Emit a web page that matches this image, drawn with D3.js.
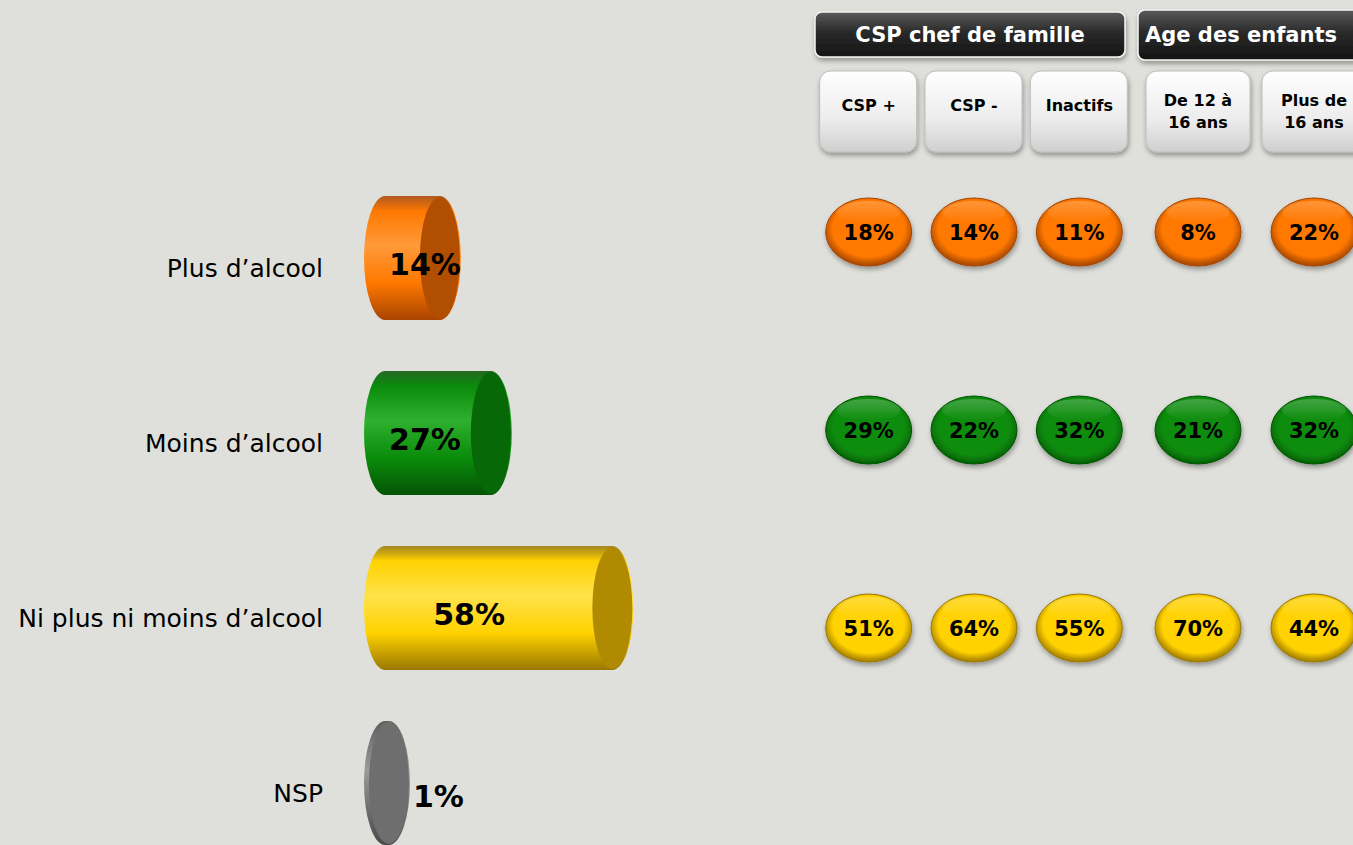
<!DOCTYPE html>
<html>
<head>
<meta charset="utf-8">
<script src="https://cdn.jsdelivr.net/npm/d3@7"></script>
<style>
  body { margin: 0; background: #dfe0db; }
  svg { display: block; }
</style>
</head>
<body>
<div id="chart"></div>
<script>
// Answers and overall totals
const answers = ["Plus d’alcool", "Moins d’alcool", "Ni plus ni moins d’alcool", "NSP"];
const totals = [14, 27, 58, 1];

// Breakdown columns
const groups = ["CSP chef de famille", "Age des enfants"];
const columns = ["CSP +", "CSP -", "Inactifs", "De 12 à|16 ans", "Plus de|16 ans"];
const columnGroup = [0, 0, 0, 1, 1];
const plusValues = [18, 14, 11, 8, 22];
const moinsValues = [29, 22, 32, 21, 32];
const niValues = [51, 64, 55, 70, 44];

const W = 1353, H = 845;
const font = "'DejaVu Sans', Verdana, sans-serif";

const svg = d3.select("#chart").append("svg")
    .attr("width", W).attr("height", H);

svg.append("rect").attr("width", W).attr("height", H).attr("fill", "#dfe0db");

const defs = svg.append("defs");

// colours for each answer: [light, base, dark, end face]
const palette = [
    ["#ff9a3a", "#ff7800", "#a84400", "#b24e00"],
    ["#2fb02f", "#0a8c0a", "#045404", "#066806"],
    ["#ffe24a", "#ffd200", "#9a7800", "#b08a00"],
    ["#9a9a9a", "#707070", "#4a4a4a", "#6e6e6e"]
];

palette.forEach(function (c, i) {
    let g = defs.append("linearGradient").attr("id", "body" + i)
        .attr("x1", 0).attr("y1", 0).attr("x2", 0).attr("y2", 1);
    g.append("stop").attr("offset", "0%").attr("stop-color", c[2]).attr("stop-opacity", 0.85);
    g.append("stop").attr("offset", "12%").attr("stop-color", c[1]);
    g.append("stop").attr("offset", "40%").attr("stop-color", c[0]);
    g.append("stop").attr("offset", "70%").attr("stop-color", c[1]);
    g.append("stop").attr("offset", "100%").attr("stop-color", c[2]);

    let r = defs.append("radialGradient").attr("id", "bubble" + i)
        .attr("cx", "50%").attr("cy", "45%").attr("r", "58%");
    r.append("stop").attr("offset", "0%").attr("stop-color", c[1]);
    r.append("stop").attr("offset", "72%").attr("stop-color", c[1]);
    r.append("stop").attr("offset", "90%").attr("stop-color", c[3]);
    r.append("stop").attr("offset", "100%").attr("stop-color", c[2]);

    let hl = defs.append("linearGradient").attr("id", "hl" + i)
        .attr("x1", 0).attr("y1", 0).attr("x2", 0).attr("y2", 1);
    hl.append("stop").attr("offset", "0%").attr("stop-color", "#fff").attr("stop-opacity", 0.22);
    hl.append("stop").attr("offset", "100%").attr("stop-color", "#fff").attr("stop-opacity", 0);
});

let dark = defs.append("linearGradient").attr("id", "darkBox")
    .attr("x1", 0).attr("y1", 0).attr("x2", 0).attr("y2", 1);
dark.append("stop").attr("offset", "0%").attr("stop-color", "#5a5a5a");
dark.append("stop").attr("offset", "45%").attr("stop-color", "#2a2a2a");
dark.append("stop").attr("offset", "100%").attr("stop-color", "#141414");

let light = defs.append("linearGradient").attr("id", "lightBox")
    .attr("x1", 0).attr("y1", 0).attr("x2", 0).attr("y2", 1);
light.append("stop").attr("offset", "0%").attr("stop-color", "#ffffff");
light.append("stop").attr("offset", "60%").attr("stop-color", "#ececec");
light.append("stop").attr("offset", "100%").attr("stop-color", "#cfcfcf");

let shadow = defs.append("filter").attr("id", "shadow")
    .attr("x", "-20%").attr("y", "-20%").attr("width", "140%").attr("height", "150%");
shadow.append("feDropShadow").attr("dx", 1).attr("dy", 3).attr("stdDeviation", 2.5)
    .attr("flood-color", "#000").attr("flood-opacity", 0.35);

// ---------- Left: cylinders ----------
const x = d3.scaleLinear().domain([0, 100]).range([385, 777]);
const y = d3.scalePoint().domain(answers).range([258, 783]);
const rx = 21, halfH = 62;

const rows = svg.append("g").selectAll("g")
    .data(answers).enter().append("g")
    .attr("transform", function (d) { return "translate(0," + y(d) + ")"; });

rows.append("text")
    .attr("x", 323).attr("y", 19)
    .attr("text-anchor", "end")
    .style("font-family", font).style("font-size", "25px")
    .attr("fill", "#000")
    .text(function (d) { return d; });

rows.append("path")
    .attr("d", function (d, i) {
        let x0 = x(0), x1 = x(totals[i]);
        return "M" + x0 + "," + (-halfH) + "L" + x1 + "," + (-halfH) +
            "A" + rx + "," + halfH + " 0 0 1 " + x1 + "," + halfH +
            "L" + x0 + "," + halfH +
            "A" + rx + "," + halfH + " 0 0 1 " + x0 + "," + (-halfH) + "Z";
    })
    .attr("fill", function (d, i) { return "url(#body" + i + ")"; });

rows.append("ellipse")
    .attr("cx", function (d, i) { return x(totals[i]); })
    .attr("cy", 0)
    .attr("rx", rx - 1).attr("ry", halfH - 1)
    .attr("fill", function (d, i) { return palette[i][3]; });

rows.append("text")
    .attr("x", function (d, i) {
        if (totals[i] < 5) return x(totals[i]) + rx + 3;
        return x(0) + Math.max((x(totals[i]) - x(0)) * 0.37, 40);
    })
    .attr("y", function (d, i) { return totals[i] < 5 ? 24 : 17; })
    .attr("text-anchor", function (d, i) { return totals[i] < 5 ? "start" : "middle"; })
    .style("font-family", font).style("font-size", "30px").style("font-weight", "bold")
    .attr("fill", "#000")
    .text(function (d, i) { return totals[i] + "%"; });

// ---------- Right: headers ----------
const headerRange = [[815, 1125], [1138, 1372]];
const columnRange = [[816, 1132], [1140, 1372]];
const colX = columns.map(function (c, i) {
    let g = columnGroup[i];
    let members = columns.filter(function (d, j) { return columnGroup[j] === g; });
    let band = d3.scaleBand().domain(members).range(columnRange[g]);
    return band(c) + band.bandwidth() / 2;
});

const head = svg.append("g").selectAll("g")
    .data(groups).enter().append("g");

head.append("rect")
    .attr("x", function (d, i) { return headerRange[i][0]; })
    .attr("y", function (d, i) { return i === 0 ? 12 : 10; })
    .attr("width", function (d, i) { return headerRange[i][1] - headerRange[i][0]; })
    .attr("height", function (d, i) { return i === 0 ? 45 : 50; })
    .attr("rx", 7)
    .attr("fill", "url(#darkBox)")
    .attr("stroke", "#f4f4f4").attr("stroke-width", 1.5)
    .attr("filter", "url(#shadow)");

head.append("text")
    .attr("x", function (d, i) { return i === 0 ? (headerRange[0][0] + headerRange[0][1]) / 2 : 1241; })
    .attr("y", 42)
    .attr("text-anchor", "middle")
    .style("font-family", font).style("font-size", "21px").style("font-weight", "bold")
    .attr("fill", "#fff")
    .text(function (d) { return d; });

const colHead = svg.append("g").selectAll("g")
    .data(columns).enter().append("g")
    .attr("transform", function (d, i) { return "translate(" + colX[i] + ",0)"; });

colHead.append("rect")
    .attr("x", function (d, i) { return columnGroup[i] === 0 ? -49 : -52; })
    .attr("y", 71)
    .attr("width", function (d, i) { return columnGroup[i] === 0 ? 97 : 104; })
    .attr("height", 81)
    .attr("rx", 11)
    .attr("fill", "url(#lightBox)")
    .attr("stroke", "#bdbdbd").attr("stroke-width", 1)
    .attr("filter", "url(#shadow)");

colHead.append("text")
    .attr("text-anchor", "middle")
    .style("font-family", font).style("font-size", "16px").style("font-weight", "bold")
    .attr("fill", "#000")
    .each(function (d) {
        let lines = d.split("|");
        let t = d3.select(this);
        lines.forEach(function (l, k) {
            t.append("tspan").attr("x", 0)
                .attr("y", lines.length === 1 ? 111 : 106 + k * 22)
                .text(l);
        });
    });

// ---------- Right: bubbles ----------
const series = [plusValues, moinsValues, niValues];
const yb = d3.scalePoint().domain(answers.slice(0, 3)).range([232, 628]);

series.forEach(function (vals, s) {
    let g = svg.append("g");
    let b = g.selectAll("g").data(vals).enter().append("g")
        .attr("transform", function (d, i) {
            return "translate(" + colX[i] + "," + yb(answers[s]) + ")";
        });
    b.append("ellipse")
        .attr("rx", 43).attr("ry", 34)
        .attr("fill", "url(#bubble" + s + ")")
        .attr("stroke", palette[s][2]).attr("stroke-width", 1)
        .attr("filter", "url(#shadow)");
    b.append("ellipse")
        .attr("cx", 0).attr("cy", -20)
        .attr("rx", 32).attr("ry", 11)
        .attr("fill", "url(#hl" + s + ")");
    b.append("text")
        .attr("y", 8)
        .attr("text-anchor", "middle")
        .style("font-family", font).style("font-size", "21px").style("font-weight", "bold")
        .attr("fill", "#000")
        .text(function (d) { return d + "%"; });
});
</script>
</body>
</html>
